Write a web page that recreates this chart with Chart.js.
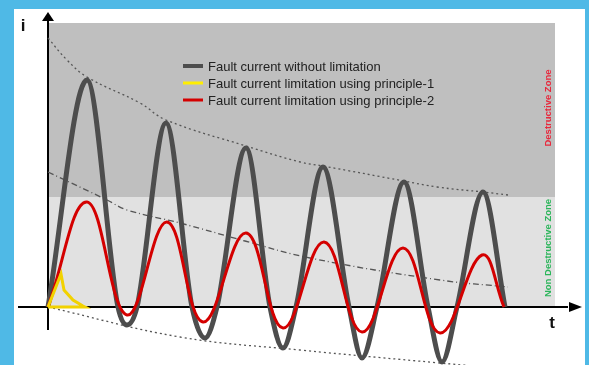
<!DOCTYPE html>
<html>
<head>
<meta charset="utf-8">
<script src="https://cdn.jsdelivr.net/npm/chart.js@4.4.1/dist/chart.umd.min.js"></script>
<style>
  html, body { margin: 0; padding: 0; background: #4fb9e6; }
  canvas { display: block; }
</style>
</head>
<body>
<canvas id="faultChart" width="589" height="365"></canvas>
<script>
// time axis (arbitrary units) and current values
const tGray = [0, 9.75, 17.5, 19.75, 22.25, 29.5, 36, 39.25, 42.25, 49.5, 55.5, 58.75, 62, 68.75, 75.25, 78.5, 82.25, 89, 95, 98.5, 102.25, 108.75, 114.25];
const iGray = [0, 90.8, 0, -7.2, 0, 73.6, 0, -12.4, 0, 63.6, 0, -16.4, 0, 56, 0, -20.4, 0, 50, 0, -22, 0, 46, 0];

// principle-2: peaks and troughs only
const tRed = [0, 9.75, 19.75, 29.75, 38.75, 49.5, 58.75, 69, 78.5, 88.75, 98, 108.5, 114];
const iRed = [0, 42, -3.2, 34, -6, 29.6, -8.4, 26, -10, 23.6, -10.4, 20.8, 0];

// principle-1 cuts the current right at the start (closed outline)
const tYellow = [0, 3.25, 4, 6.25, 8.75, 9.25, 0];
const iYellow = [0, 13.2, 6.8, 2.8, 0.4, 0, 0];

// envelopes
const tUpper = [0, 4.75, 9.75, 23, 29.5, 49.5, 63, 68.75, 89, 97.25, 108.75, 115];
const iUpper = [107.6, 98.8, 92, 81.6, 74.8, 64.4, 58, 56.4, 50.4, 48, 46, 44.8];
const tMid = [0, 14.75, 19.75, 33, 49.25, 65.5, 98, 115];
const iMid = [54, 42.8, 38.8, 33.6, 26.4, 19.6, 10.8, 8];
const tLower = [0, 33, 63, 98, 118];
const iLower = [0, -12, -17.2, -22.4, -25.2];

// zones
const zoneTop = 113.6;
const destructiveLevel = 44;
const zoneEnd = 126.75;

const labels = [
  'Fault current without limitation',
  'Fault current limitation using principle-1',
  'Fault current limitation using principle-2'
];

const pts = (ts, is) => ts.map((t, k) => ({ x: t, y: is[k] }));

const envelope = (data, dash) => ({
  label: '',
  data,
  borderColor: '#555',
  borderWidth: 1.3,
  borderDash: dash,
  tension: 0.4,
  pointRadius: 0,
  clip: false,
  order: 5
});

const backdrop = {
  id: 'backdrop',
  beforeDraw(chart) {
    const { ctx, scales: { x, y } } = chart;
    ctx.save();
    ctx.fillStyle = '#4fb9e6';
    ctx.fillRect(0, 0, chart.width, chart.height);
    ctx.fillStyle = '#ffffff';
    ctx.fillRect(14, 9, 571, chart.height - 9);

    const x0 = x.getPixelForValue(0);
    const xe = x.getPixelForValue(zoneEnd);
    ctx.fillStyle = '#bfbfbf';
    ctx.fillRect(x0, y.getPixelForValue(zoneTop), xe - x0, y.getPixelForValue(destructiveLevel) - y.getPixelForValue(zoneTop));
    ctx.fillStyle = '#e1e1e1';
    ctx.fillRect(x0, y.getPixelForValue(destructiveLevel), xe - x0, y.getPixelForValue(0) - y.getPixelForValue(destructiveLevel));
    ctx.restore();
  },
  beforeDatasetsDraw(chart) {
    const { ctx, scales: { x, y } } = chart;
    const x0 = x.getPixelForValue(0);
    const y0 = y.getPixelForValue(0);
    ctx.save();
    ctx.strokeStyle = '#000';
    ctx.fillStyle = '#000';
    ctx.lineWidth = 2;
    ctx.beginPath();
    ctx.moveTo(x0, y.getPixelForValue(-9.2));
    ctx.lineTo(x0, y.getPixelForValue(115));
    ctx.moveTo(x.getPixelForValue(-7.5), y0);
    ctx.lineTo(x.getPixelForValue(130), y0);
    ctx.stroke();
    // arrow heads
    const yt = y.getPixelForValue(118);
    ctx.beginPath();
    ctx.moveTo(x0, yt);
    ctx.lineTo(x0 - 6, yt + 9);
    ctx.lineTo(x0 + 6, yt + 9);
    ctx.closePath();
    ctx.fill();
    const xt = x.getPixelForValue(133.5);
    ctx.beginPath();
    ctx.moveTo(xt, y0);
    ctx.lineTo(xt - 13, y0 - 5);
    ctx.lineTo(xt - 13, y0 + 5);
    ctx.closePath();
    ctx.fill();
    ctx.restore();
  },
  afterDatasetsDraw(chart) {
    const { ctx, scales: { y } } = chart;
    ctx.save();
    // axis names
    ctx.fillStyle = '#111';
    ctx.font = 'bold 17px "Liberation Sans", Arial, sans-serif';
    ctx.textAlign = 'center';
    ctx.textBaseline = 'middle';
    ctx.fillText('i', 23, 26);
    ctx.fillText('t', 552, 323);

    // legend
    const colors = ['#4d4d4d', '#ffee00', '#d40000'];
    const widths = [4, 3, 3];
    const rows = [66, 83, 100];
    ctx.font = '13px "Liberation Sans", Arial, sans-serif';
    ctx.textAlign = 'left';
    labels.forEach((txt, k) => {
      ctx.strokeStyle = colors[k];
      ctx.lineWidth = widths[k];
      ctx.beginPath();
      ctx.moveTo(183, rows[k]);
      ctx.lineTo(203, rows[k]);
      ctx.stroke();
      ctx.fillStyle = '#222';
      ctx.fillText(txt, 208, rows[k] + 1);
    });

    // zone names, rotated
    ctx.font = 'bold 9.5px "Liberation Sans", Arial, sans-serif';
    ctx.textAlign = 'center';
    ctx.translate(548, y.getPixelForValue(79.6));
    ctx.rotate(-Math.PI / 2);
    ctx.fillStyle = '#e8283c';
    ctx.fillText('Destructive Zone', 0, 0);
    ctx.rotate(Math.PI / 2);
    ctx.translate(0, y.getPixelForValue(23.6) - y.getPixelForValue(79.6));
    ctx.rotate(-Math.PI / 2);
    ctx.fillStyle = '#2bb55a';
    ctx.fillText('Non Destructive Zone', 0, 0);
    ctx.restore();
  }
};

new Chart(document.getElementById('faultChart').getContext('2d'), {
  type: 'line',
  data: {
    datasets: [
      {
        label: labels[0],
        data: pts(tGray, iGray),
        borderColor: '#4d4d4d',
        borderWidth: 5,
        cubicInterpolationMode: 'monotone',
        pointRadius: 0,
        clip: false,
        order: 3
      },
      {
        label: labels[1],
        data: pts(tYellow, iYellow),
        borderColor: '#f2d200',
        borderWidth: 3,
        tension: 0,
        pointRadius: 0,
        clip: false,
        order: 1
      },
      {
        label: labels[2],
        data: pts(tRed, iRed),
        borderColor: '#d40000',
        borderWidth: 3,
        tension: 0.4,
        pointRadius: 0,
        clip: false,
        order: 2
      },
      envelope(pts(tUpper, iUpper), [2, 3]),
      envelope(pts(tMid, iMid), [6, 3, 1, 3]),
      envelope(pts(tLower, iLower), [2, 3])
    ]
  },
  options: {
    responsive: false,
    animation: false,
    devicePixelRatio: 1,
    layout: { padding: { left: 16, right: 5, top: 12, bottom: 3 } },
    scales: {
      x: { type: 'linear', min: -8, max: 134, display: false },
      y: { type: 'linear', min: -22, max: 118, display: false }
    },
    plugins: {
      legend: { display: false },
      tooltip: { enabled: false }
    }
  },
  plugins: [backdrop]
});
</script>
</body>
</html>
